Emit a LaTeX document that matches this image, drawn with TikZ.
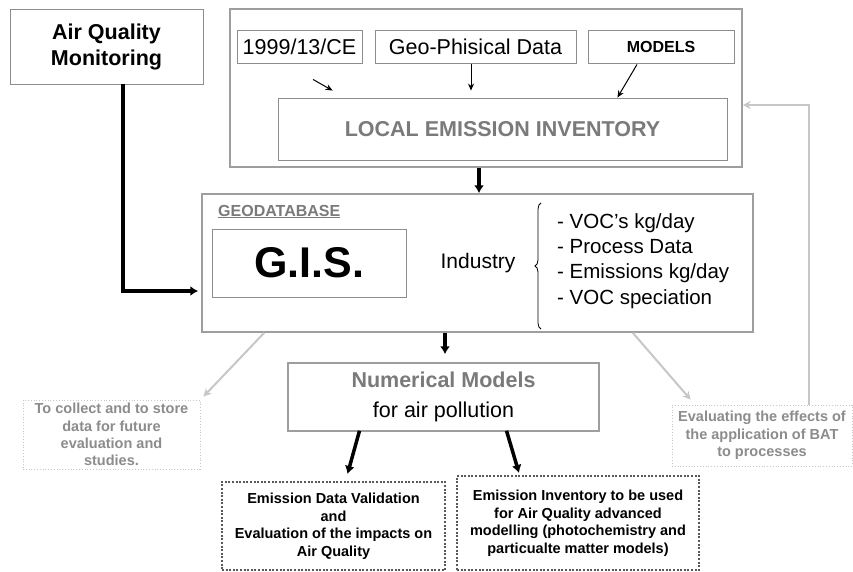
\documentclass[tikz,border=0pt]{standalone}
\usepackage{fontspec}
\setmainfont{Liberation Sans}
\usetikzlibrary{arrows.meta,decorations.pathreplacing}
\definecolor{greytxt}{gray}{0.48}
\definecolor{lighttxt}{gray}{0.55}
\definecolor{lightline}{gray}{0.78}

\begin{document}
\begin{tikzpicture}[
  x=1pt, y=-1pt,
  frame/.style={rectangle, draw=black!38, line width=1.5pt, inner sep=0pt, align=center},
  box/.style={rectangle, draw=black!45, line width=0.9pt, inner sep=0pt, align=center},
  softbox/.style={rectangle, draw=lightline, line width=0.8pt, dotted, inner sep=0pt,
                  align=center, text=lighttxt, font=\fontsize{14.5}{17.3}\selectfont\bfseries},
  outbox/.style={rectangle, draw=black!65, line width=2pt, dash pattern=on 2pt off 1.6pt,
                 inner sep=0pt, align=center, font=\fontsize{14.5}{17.5}\selectfont\bfseries},
  big/.style={font=\fontsize{21.5}{26}\selectfont},
  bigbold/.style={font=\fontsize{21.5}{26}\selectfont\bfseries},
  thin arrow/.style={-{Stealth[length=7pt,width=6pt]}, line width=1pt},
  thick arrow/.style={-{Latex[length=8pt,width=10pt]}, line width=3.5pt},
  light arrow/.style={-{Stealth[length=8pt,width=8pt]}, draw=lightline, line width=2pt},
]
  \useasboundingbox[fill=white] (0,0) rectangle (853,572);

  % monitoring box, top left
  \node[box, minimum width=193pt, minimum height=75pt, bigbold] (aqm) at (106.5,46.5)
    {Air Quality\\Monitoring};

  % emission inventory frame with its inputs
  \node[frame, minimum width=512pt, minimum height=158pt] (invframe) at (486,88) {};
  \node[box, minimum width=125pt, minimum height=33pt, big] (dir) at (299.5,46.5) {1999/13/CE};
  \node[box, minimum width=201pt, minimum height=33pt, big] (geo) at (475.5,46.5) {Geo-Phisical Data};
  \node[box, minimum width=146pt, minimum height=33pt,
        font=\fontsize{16}{19}\selectfont\bfseries] (models) at (661,46.5) {MODELS};
  \node[box, minimum width=449pt, minimum height=62pt, bigbold, text=greytxt]
    (lei) at (502.5,129) {LOCAL EMISSION INVENTORY};

  % geodatabase
  \node[frame, minimum width=551pt, minimum height=138pt] (geodb) at (477.5,263) {};
  \node[anchor=base west, inner sep=0pt, text=greytxt,
        font=\fontsize{16}{19}\selectfont\bfseries] (geolabel) at (218,216) {\underline{GEODATABASE}};
  \node[box, minimum width=194pt, minimum height=68pt,
        font=\fontsize{43}{50}\selectfont\bfseries] (gis) at (309,263) {G.I.S.};
  \node[inner sep=0pt, font=\fontsize{21}{25}\selectfont] (industry) at (478,263) {Industry};
  \node[anchor=west, inner sep=0pt, align=left, font=\fontsize{20.5}{25.3}\selectfont]
    (items) at (557,261) {- VOC’s kg/day\\- Process Data\\- Emissions kg/day\\- VOC speciation};
  \coordinate (brbot) at (541,329);
  \coordinate (brtop) at (541,203);
  \draw[decorate, decoration={brace, amplitude=6pt}, line width=0.8pt] (brbot) -- (brtop);

  % models and outputs
  \node[frame, minimum width=311pt, minimum height=68pt, font=\fontsize{21.5}{30}\selectfont]
    (nummod) at (443.5,397) {{\color{greytxt}\bfseries Numerical Models}\\for air pollution};
  \node[softbox, minimum width=177pt, minimum height=69pt] (collect) at (111.5,434.5)
    {To collect and to store\\data for future\\evaluation and\\studies.};
  \node[softbox, minimum width=180pt, minimum height=61pt] (evalbat) at (762,435.5)
    {Evaluating the effects of\\the application of BAT\\to processes};
  \node[outbox, minimum width=223pt, minimum height=88pt] (valid) at (333.5,526)
    {Emission Data Validation\\and\\Evaluation of the impacts on\\Air Quality};
  \node[outbox, minimum width=242pt, minimum height=94pt] (usage) at (578,523)
    {Emission Inventory to be used\\for Air Quality advanced\\modelling (photochemistry and\\particualte matter models)};

  % inputs to the inventory
  \draw[thin arrow] ([shift={(13.5,16)}]dir.south) -- ([shift={(55,-7)}]lei.north west);
  \draw[thin arrow] ([shift={(-4.5,1)}]geo.south) -- ([shift={(-4.5,-7)}]geo.south |- lei.north);
  \draw[thin arrow] ([shift={(-24,1)}]models.south) -- ([shift={(-110,0)}]lei.north east);

  % main flow
  \draw[thick arrow] ([shift={(-7,0)}]invframe.south) -- ([shift={(-7,0)}]invframe.south |- geodb.north);
  \draw[thick arrow, shorten >=3pt] ([shift={(16.5,0)}]aqm.south) |- ([shift={(0,28)}]geodb.west);
  \draw[thick arrow] ([shift={(1.5,0)}]nummod.north |- geodb.south) -- ([shift={(1.5,-8)}]nummod.north);
  \draw[thick arrow] ([shift={(-84,-1)}]nummod.south) -- ([shift={(14,-7)}]valid.north);
  \draw[thick arrow] ([shift={(63,-1)}]nummod.south) -- ([shift={(-59,-2)}]usage.north);

  % side branches
  \draw[light arrow] ([shift={(63,0)}]geodb.south west) -- ([shift={(3,-3)}]collect.north east);
  \draw[light arrow] ([shift={(-121,0)}]geodb.south east) -- ([shift={(19,-5)}]evalbat.north west);
  \draw[light arrow] ([shift={(47,0)}]evalbat.north) |- ([shift={(0,17)}]invframe.east);
\end{tikzpicture}
\end{document}
